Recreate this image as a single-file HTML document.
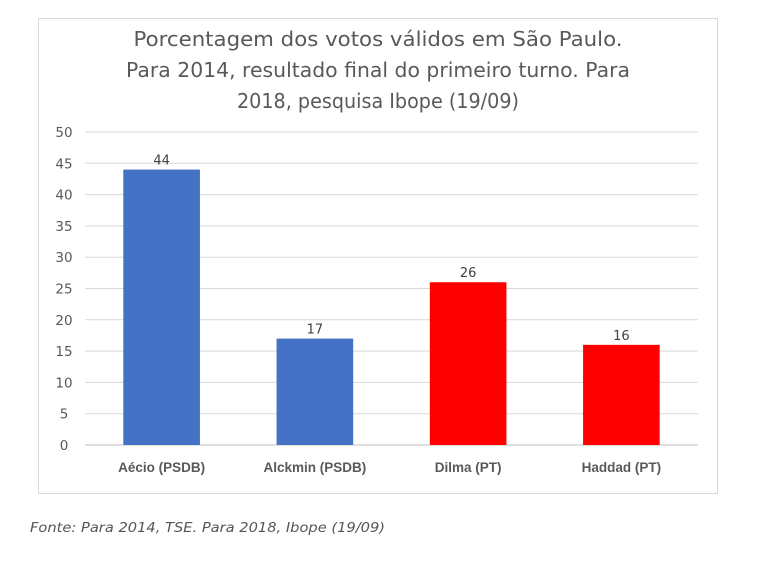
<!DOCTYPE html>
<html><head><meta charset="utf-8"><style>
body{margin:0;background:#fff;width:768px;height:564px;overflow:hidden;font-family:"Liberation Sans",sans-serif}
</style></head><body>
<svg width="768" height="564">
<rect x="38.5" y="18.5" width="679" height="475" fill="#fff" stroke="#d9d9d9"/>
<g font-size="20" fill="#595959" text-anchor="middle" font-family="DejaVu Sans, sans-serif">
<text x="378" y="46" textLength="489" lengthAdjust="spacingAndGlyphs">Porcentagem dos votos válidos em São Paulo.</text>
<text x="378" y="77" textLength="504" lengthAdjust="spacingAndGlyphs">Para 2014, resultado final do primeiro turno. Para</text>
<text x="378" y="108" textLength="282" lengthAdjust="spacingAndGlyphs">2018, pesquisa Ibope (19/09)</text>
</g>
<g id="grid"></g><g id="bars"></g><g id="labels"></g>
<text x="30" y="532" font-size="13" font-style="italic" fill="#555" font-family="DejaVu Sans, sans-serif" textLength="355" lengthAdjust="spacingAndGlyphs">Fonte: Para 2014, TSE. Para 2018, Ibope (19/09)</text>
</svg>
<script>
const categories=["Aécio (PSDB)","Alckmin (PSDB)","Dilma (PT)","Haddad (PT)"];
const values=[44,17,26,16];
const colors=["#4472c4","#4472c4","#ff0000","#ff0000"];
const ticks=[0,5,10,15,20,25,30,35,40,45,50];
const NS="http://www.w3.org/2000/svg";
const x0=85,x1=698,y0=445,y50=132;
const y=v=>y0-(y0-y50)*v/50;
const bw=(x1-x0)/categories.length;
function mk(t,a,p,txt){const e=document.createElementNS(NS,t);for(const k in a)e.setAttribute(k,a[k]);if(txt!==undefined)e.textContent=txt;document.getElementById(p).appendChild(e);return e;}
ticks.forEach(t=>{
 const l=mk('line',{x1:x0,x2:x1,y1:y(t),y2:y(t),stroke:t===0?'#bfbfbf':'#d9d9d9','stroke-width':1},'grid');
 
 
 const tx=mk('text',{x:64,y:y(t)+5,'font-size':13.5,fill:'#595959','text-anchor':'middle','font-family':'DejaVu Sans, sans-serif'},'grid',String(t));
 
 
});
categories.forEach((c,i)=>{
 const cx=x0+bw*(i+0.5),w=bw*0.5;
 const r=mk('rect',{x:cx-w/2,y:y(values[i]),width:w,height:y0-y(values[i]),fill:colors[i]},'bars');
 
 
 const v=mk('text',{x:cx,y:y(values[i])-5,'font-size':13,fill:'#404040','text-anchor':'middle','font-family':'DejaVu Sans, sans-serif'},'labels',String(values[i]));
 
 
 const cl=mk('text',{x:cx,y:472,'font-size':13.5,'font-weight':'bold',fill:'#595959','text-anchor':'middle'},'labels',c);
 
 
});
</script>
</body></html>
